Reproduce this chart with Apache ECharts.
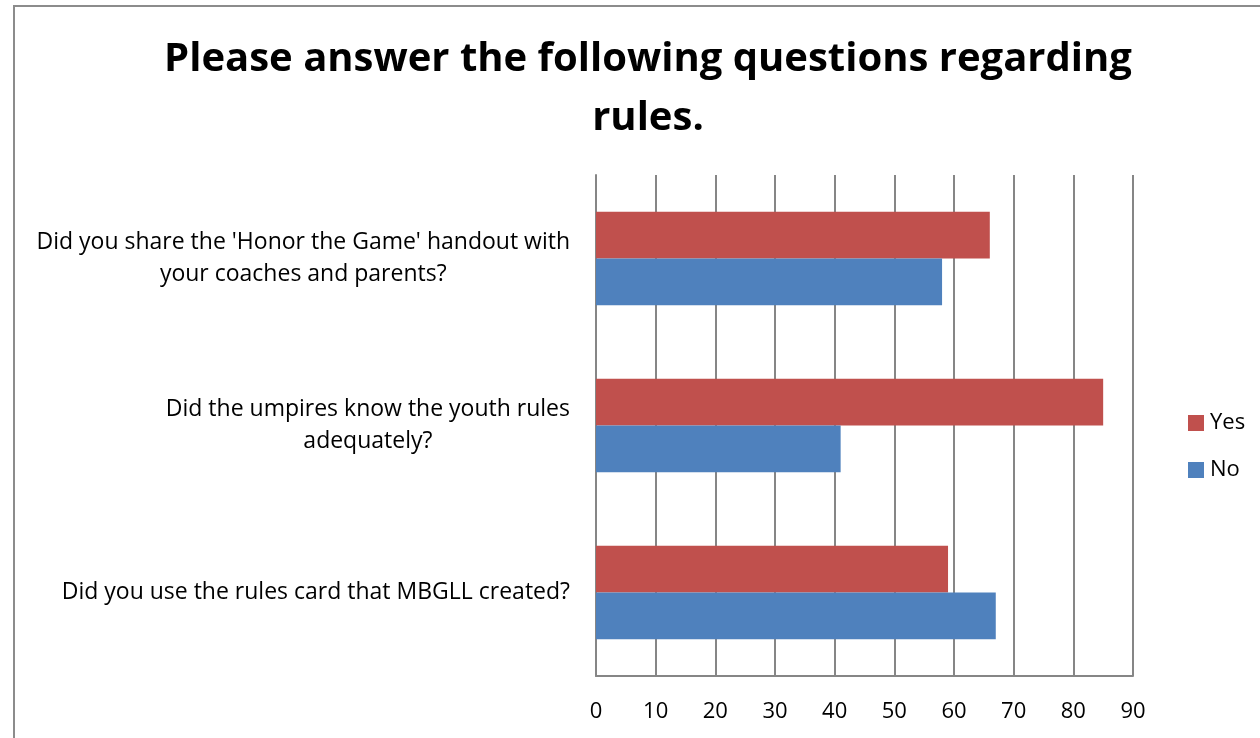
<!DOCTYPE html>
<html>
<head>
<meta charset="utf-8">
<style>
  html, body { margin: 0; padding: 0; background: #fff; overflow: hidden; }
  #frame { position: absolute; left: 13px; top: 5px; width: 1300px; height: 800px; border: 2px solid #8c8c8c; }
  #chart { position: absolute; left: 0; top: 0; width: 1260px; height: 738px; }
</style>
<script src="https://cdn.jsdelivr.net/npm/echarts@6/dist/echarts.min.js"></script>
</head>
<body>
<div id="frame"></div>
<div id="chart"></div>
<script>
const titleText = 'Please answer the following questions regarding\nrules.'
const questions = [
  "Did you share the 'Honor the Game' handout with\nyour coaches and parents?",
  'Did the umpires know the youth rules\nadequately?',
  'Did you use the rules card that MBGLL created?'
]
const yesData = [66, 85, 59]
const noData = [58, 41, 67]
const seriesNames = ['Yes', 'No']

const FONT = '"Open Sans", sans-serif'

// center each line of a label inside its own block
const rich = { c: { align: 'center', fontSize: 23, fontFamily: FONT, color: '#000', lineHeight: 32 } }

const chart = echarts.init(document.getElementById('chart'))
chart.setOption({
  backgroundColor: 'transparent',
  title: {
    text: titleText,
    left: 643,
    textAlign: 'center',
    top: 25,
    textStyle: { fontSize: 40, fontWeight: 'bold', fontFamily: FONT, color: '#000', lineHeight: 59 }
  },
  legend: {
    data: seriesNames,
    orient: 'vertical',
    left: 1188,
    top: 412,
    padding: 0,
    itemWidth: 16,
    itemHeight: 16,
    itemGap: 25,
    icon: 'rect',
    textStyle: { fontSize: 22, fontFamily: FONT, color: '#000', padding: [0, 0, 0, 1] }
  },
  grid: { left: 596, right: 127, top: 175, bottom: 62 },
  xAxis: {
    type: 'value',
    min: 0,
    max: 90,
    interval: 10,
    axisLine: { show: true, lineStyle: { color: '#868686', width: 2 } },
    axisTick: { show: false },
    splitLine: { show: true, lineStyle: { color: '#868686', width: 2 } },
    axisLabel: { fontSize: 22, fontFamily: FONT, color: '#000', margin: 25 }
  },
  yAxis: {
    type: 'category',
    inverse: true,
    data: questions,
    axisLine: { show: true, lineStyle: { color: '#868686', width: 2 } },
    axisTick: { show: false },
    axisLabel: {
      margin: 26,
      align: 'right',
      formatter: v => v.split('\n').map(s => '{c|' + s + '}').join('\n'),
      rich: rich
    }
  },
  series: [
    {
      name: 'Yes',
      type: 'bar',
      data: yesData,
      barGap: '0%',
      barCategoryGap: '44%',
      itemStyle: { color: '#c0504d' }
    },
    {
      name: 'No',
      type: 'bar',
      data: noData,
      barGap: '0%',
      barCategoryGap: '44%',
      itemStyle: { color: '#4f81bd' }
    }
  ]
})
</script>
</body>
</html>
